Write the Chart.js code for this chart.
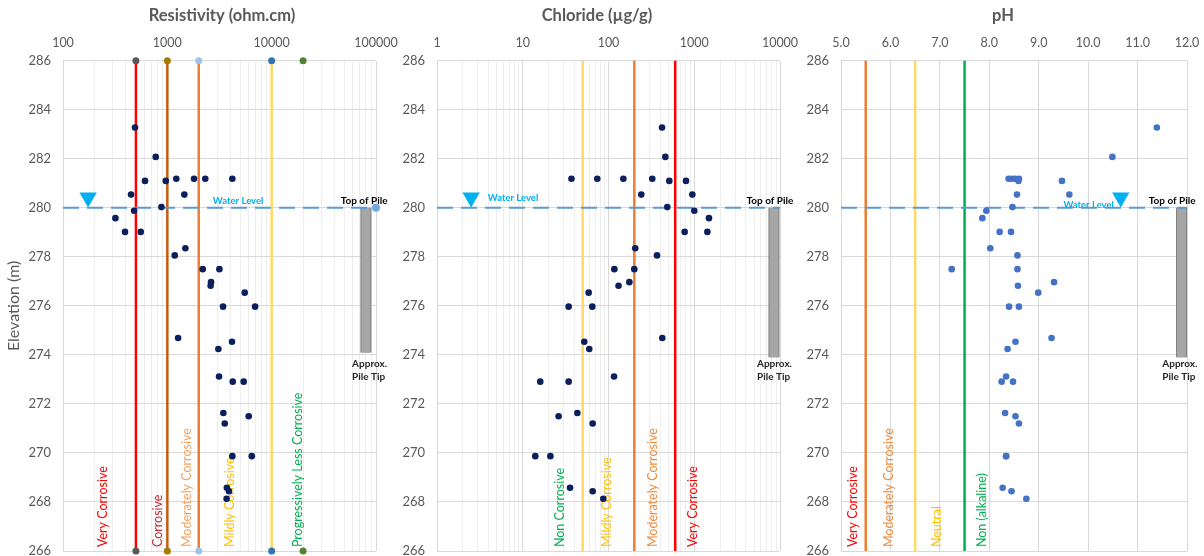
<!DOCTYPE html>
<html><head><meta charset="utf-8">
<script src="https://cdn.jsdelivr.net/npm/chart.js@4.4.0/dist/chart.umd.min.js"></script>
<style>
html,body{margin:0;padding:0;background:#fff;width:1204px;height:556px;overflow:hidden;position:relative}
canvas{position:absolute;top:0}
</style></head><body>
<canvas id="c1" width="400" height="556" style="left:0px"></canvas>
<canvas id="c2" width="405" height="556" style="left:395px"></canvas>
<canvas id="c3" width="404" height="556" style="left:800px"></canvas>
<script>
// ---------------- DATA ----------------
const elevation = [283.28, 282.08, 281.19, 281.19, 281.19, 281.19, 281.10, 281.10, 280.54, 280.54,
  280.03, 279.88, 279.58, 279.02, 279.02, 278.35, 278.06, 277.50, 277.50, 276.97,
  276.82, 276.54, 275.97, 275.97, 274.69, 274.54, 274.24, 273.12, 272.91, 272.91,
  271.63, 271.50, 271.20, 269.87, 269.87, 268.58, 268.44, 268.13];
const resistivity = [490, 774, 1219, 1803, 2311, 4199, 611, 966, 449, 1455,
  877, 480, 318, 393, 556, 1489, 1178, 2183, 3155, 2624,
  2600, 5517, 3421, 6935, 1268, 4168, 3085, 3131, 4236, 5392,
  3444, 6026, 3551, 4199, 6447, 3720, 3900, 3700];
const chloride = [421, 460, 37, 74, 149, 324, 512, 801, 241, 950,
  485, 1002, 1486, 773, 1422, 205, 368, 117, 200, 175,
  131, 58.7, 34.3, 64.7, 424, 52.2, 59.7, 116, 16, 34.3,
  43.3, 26.2, 65.4, 14, 21, 35.6, 65.4, 87];
const pH = [11.39, 10.49, 8.39, 8.45, 8.52, 8.60, 8.59, 9.47, 8.56, 9.62,
  8.47, 7.94, 7.86, 8.21, 8.44, 8.02, 8.57, 7.24, 8.57, 9.31,
  8.58, 8.99, 8.40, 8.60, 9.26, 8.53, 8.37, 8.34, 8.25, 8.48,
  8.32, 8.53, 8.60, 8.34, 8.34, 8.27, 8.45, 8.75];

const elevationTicks = [266, 268, 270, 272, 274, 276, 278, 280, 282, 284, 286];
const resistivityTickLabels = ['100', '1000', '10000', '100000'];
const chlorideTickLabels = ['1', '10', '100', '1000', '10000'];
const pHTickLabels = ['5.0', '6.0', '7.0', '8.0', '9.0', '10.0', '11.0', '12.0'];

const resThresholds = [500, 1000, 2000, 10000];
const resMarkerValues = [500, 1000, 2000, 10000, 20000];
const resZoneNames = ['Very Corrosive', 'Corrosive', 'Moderately Corrosive', 'Mildly Corrosive', 'Progressively Less Corrosive'];
const chlThresholds = [50, 200, 600];
const chlZoneNames = ['Non Corrosive', 'Mildly Corrosive', 'Moderately Corrosive', 'Very Corrosive'];
const phThresholds = [5.5, 6.5, 7.5];
const phZoneNames = ['Very Corrosive', 'Moderately Corrosive', 'Neutral', 'Non (alkaline)'];

const waterLevel = 280;
const pileTop = 280;
const pileTip = [274.1, 273.9, 273.9];

// ---------------- LAYOUT / STYLE ----------------
const FONT = 'Lato, "Open Sans", sans-serif';
const GREY = '#595959';
const C_RED = '#FF0000', C_BROWN = '#C55A11', C_ORANGE = '#ED7D31', C_YEL = '#FFD966', C_GREEN = '#00B050';
const isPow10 = v => { const l = Math.log10(v); return Math.abs(l - Math.round(l)) < 1e-9; };

function logTicks(min, max) {
  const out = [];
  for (let e = Math.round(Math.log10(min)); Math.pow(10, e) <= max; e++) {
    for (let s = 1; s <= 9; s++) {
      const v = Math.round(s * Math.pow(10, e) * 1e6) / 1e6;
      if (v >= min && v <= max) out.push({value: v});
    }
  }
  return out;
}

const annotPlugin = {
  id: 'annot',
  afterLayout(chart, args, o) {
    if (chart.titleBlock && o.titleX !== undefined) {
      chart.titleBlock.left = o.titleX - 160;
      chart.titleBlock.right = o.titleX + 160;
    }
  },
  beforeDatasetsDraw(chart, args, o) {
    const ctx = chart.ctx, xs = chart.scales.x, ys = chart.scales.y;
    ctx.save();
    (o.zones || []).forEach(z => {
      ctx.save();
      ctx.translate(xs.getPixelForValue(z.x), ys.getPixelForValue(z.y));
      ctx.rotate(-Math.PI / 2);
      ctx.font = '12.5px ' + FONT;
      ctx.fillStyle = z.color;
      ctx.textAlign = 'left';
      ctx.textBaseline = 'middle';
      ctx.fillText(z.text, 0, 0);
      ctx.restore();
    });
    ctx.restore();
  },
  afterDatasetsDraw(chart, args, o) {
    const ctx = chart.ctx, xs = chart.scales.x, ys = chart.scales.y;
    ctx.save();
    (o.texts || []).forEach(t => {
      ctx.font = t.font;
      ctx.fillStyle = t.color;
      ctx.textAlign = t.align || 'center';
      ctx.textBaseline = 'middle';
      ctx.fillText(t.text, xs.getPixelForValue(t.x), ys.getPixelForValue(t.y));
    });
    ctx.restore();
  }
};

function lineDS(x, color, extra) {
  return Object.assign({
    data: [{x: x, y: 266}, {x: x, y: 286}],
    showLine: true, borderColor: color, borderWidth: 2.5, pointRadius: 0, clip: false
  }, extra || {});
}

function makePanel(id, p) {
  const points = elevation.map((e, i) => ({x: p.values[i], y: e}));
  const datasets = [
    {data: points, pointRadius: 3.3, pointBackgroundColor: p.dotColor, pointBorderWidth: 0, showLine: false},
    {data: [{x: p.triX, y: 280.42}], pointStyle: 'triangle', rotation: 180, pointRadius: 10,
     pointBackgroundColor: '#00B0F0', pointBorderWidth: 0, showLine: false, clip: false},
    {data: [{x: p.xmin, y: waterLevel}, {x: p.xmax, y: waterLevel}], showLine: true,
     borderColor: '#5B9BD5', borderWidth: 2, borderDash: [16, 8], clip: false,
     pointRadius: p.waterEndDot ? [0, 4] : 0, pointBackgroundColor: '#6FA8DC', pointBorderWidth: 0},
  ];
  p.lines.forEach(l => datasets.push(lineDS(l.x, l.color, l.extra)));
  if (p.extraPoints) datasets.push(p.extraPoints);
  datasets.push({data: [{x: p.pileX, y: pileTop}, {x: p.pileX, y: p.pileTip}], showLine: true,
    borderColor: '#A6A6A6', borderWidth: 9, pointRadius: 0, clip: false});
  datasets.push({data: [{x: p.pileX, y: pileTop}, {x: p.pileX, y: p.pileTip}], showLine: true,
    borderColor: '#7F7F7F', borderWidth: 11, pointRadius: 0, clip: false});

  const xScale = {
    type: p.log ? 'logarithmic' : 'linear', position: 'top', min: p.xmin, max: p.xmax,
    border: {display: false},
    grid: {drawTicks: false, lineWidth: 1,
      color: c => (!p.log || (c.tick && isPow10(c.tick.value))) ? '#D9D9D9' : '#EEEEEE'},
    ticks: {autoSkip: false, maxRotation: 0, padding: 10, color: GREY, font: {family: FONT, size: 12.5},
      callback: (v) => p.tickLabel(v)},
    afterFit: s => { s.height = 35; s.paddingLeft = 0; s.paddingRight = 0; s.paddingTop = 0; s.paddingBottom = 0; }
  };
  if (p.log) xScale.afterBuildTicks = s => { s.ticks = logTicks(p.xmin, p.xmax); };
  else xScale.ticks.stepSize = 1;

  new Chart(document.getElementById(id), {
    type: 'scatter',
    data: {datasets},
    options: {
      responsive: false, animation: false, devicePixelRatio: 1,
      layout: {autoPadding: false, padding: {left: 0, right: p.padRight, top: 0, bottom: 5}},
      plugins: {
        legend: {display: false}, tooltip: {enabled: false},
        title: {display: true, text: p.title, color: GREY, padding: {top: 6, bottom: 0},
          font: {family: FONT, size: 16.5, weight: 'bold'}},
        annot: {titleX: p.titleX, zones: p.zones, texts: p.texts}
      },
      scales: {
        x: xScale,
        y: {
          min: 266, max: 286, border: {display: false},
          grid: {drawTicks: false, color: '#D9D9D9'},
          afterBuildTicks: s => { s.ticks = elevationTicks.map(v => ({value: v})); },
          ticks: {padding: 12, color: GREY, font: {family: FONT, size: 13}},
          title: p.yTitle ? {display: true, text: p.yTitle, color: GREY, font: {family: FONT, size: 16}, padding: {top: 4, bottom: 4}} : {display: false},
          afterFit: s => { s.width = p.yWidth; s.paddingTop = 0; s.paddingBottom = 0; s.paddingLeft = 0; s.paddingRight = 0; }
        }
      }
    },
    plugins: [annotPlugin]
  });
}

const smallBold = 'bold 10px ' + FONT;
const waterFont = 'bold 9.5px ' + FONT;
const zoneY = 266.16;

// Panel 1: Resistivity
makePanel('c1', {
  title: 'Resistivity (ohm.cm)', titleX: 222, yTitle: 'Elevation (m)', yWidth: 63, padRight: 24,
  log: true, xmin: 100, xmax: 100000, values: resistivity, dotColor: '#0B1F5C',
  tickLabel: v => { const i = Math.round(Math.log10(v)) - 2; return isPow10(v) ? resistivityTickLabels[i] : ''; },
  triX: 174, waterEndDot: true, pileX: 80000, pileTip: pileTip[0],
  lines: [
    {x: resThresholds[0], color: C_RED, extra: {pointRadius: 3.5, pointBackgroundColor: '#595959', pointBorderWidth: 0}},
    {x: resThresholds[1], color: C_BROWN, extra: {pointRadius: 3.5, pointBackgroundColor: '#A67C00', pointBorderWidth: 0}},
    {x: resThresholds[2], color: C_ORANGE, extra: {pointRadius: 3.5, pointBackgroundColor: '#9DC3E6', pointBorderWidth: 0}},
    {x: resThresholds[3], color: C_YEL, extra: {pointRadius: 3.5, pointBackgroundColor: '#2E75B6', pointBorderWidth: 0}}
  ],
  extraPoints: {data: [{x: resMarkerValues[4], y: 266}, {x: resMarkerValues[4], y: 286}], showLine: false,
    pointRadius: 3.5, pointBackgroundColor: '#548235', pointBorderWidth: 0, clip: false},
  zones: [
    {x: 242, y: zoneY, text: resZoneNames[0], color: '#FF0000'},
    {x: 815, y: zoneY, text: resZoneNames[1], color: '#C62B35'},
    {x: 1545, y: zoneY, text: resZoneNames[2], color: '#F4A261'},
    {x: 3990, y: zoneY, text: resZoneNames[3], color: '#FFC000'},
    {x: 17900, y: zoneY, text: resZoneNames[4], color: '#00B050'}
  ],
  texts: [
    {x: 4770, y: 280.3, text: 'Water Level', color: '#00B0F0', font: waterFont},
    {x: 76900, y: 280.3, text: 'Top of Pile', color: '#000', font: smallBold},
    {x: 59000, y: 273.62, text: 'Approx.', color: '#262626', font: smallBold, align: 'left'},
    {x: 59000, y: 273.09, text: 'Pile Tip', color: '#262626', font: smallBold, align: 'left'}
  ]
});

// Panel 2: Chloride
makePanel('c2', {
  title: 'Chloride (\u00b5g/g)', titleX: 202, yWidth: 42, padRight: 20,
  log: true, xmin: 1, xmax: 10000, values: chloride, dotColor: '#0B1F5C',
  tickLabel: v => { const i = Math.round(Math.log10(v)); return isPow10(v) ? chlorideTickLabels[i] : ''; },
  triX: 2.5, waterEndDot: false, pileX: 8500, pileTip: pileTip[1],
  lines: [
    {x: chlThresholds[0], color: C_YEL},
    {x: chlThresholds[1], color: C_ORANGE},
    {x: chlThresholds[2], color: C_RED}
  ],
  zones: [
    {x: 27.2, y: zoneY, text: chlZoneNames[0], color: '#00B050'},
    {x: 95.3, y: zoneY, text: chlZoneNames[1], color: '#FFC000'},
    {x: 330, y: zoneY, text: chlZoneNames[2], color: '#F08A3C'},
    {x: 959, y: zoneY, text: chlZoneNames[3], color: '#FF0000'}
  ],
  texts: [
    {x: 7.7, y: 280.42, text: 'Water Level', color: '#00B0F0', font: waterFont},
    {x: 7640, y: 280.3, text: 'Top of Pile', color: '#000', font: smallBold},
    {x: 5390, y: 273.62, text: 'Approx.', color: '#262626', font: smallBold, align: 'left'},
    {x: 5390, y: 273.09, text: 'Pile Tip', color: '#262626', font: smallBold, align: 'left'}
  ]
});

// Panel 3: pH
makePanel('c3', {
  title: 'pH', titleX: 203, yWidth: 41, padRight: 17,
  log: false, xmin: 5, xmax: 12, values: pH, dotColor: '#4472C4',
  tickLabel: v => pHTickLabels[Math.round(v - 5)],
  triX: 10.66, waterEndDot: false, pileX: 11.89, pileTip: pileTip[2],
  lines: [
    {x: phThresholds[0], color: C_ORANGE},
    {x: phThresholds[1], color: C_YEL},
    {x: phThresholds[2], color: C_GREEN}
  ],
  zones: [
    {x: 5.24, y: zoneY, text: phZoneNames[0], color: '#FF0000'},
    {x: 5.97, y: zoneY, text: phZoneNames[1], color: '#F08A3C'},
    {x: 6.95, y: zoneY, text: phZoneNames[2], color: '#FFC000'},
    {x: 7.85, y: zoneY, text: phZoneNames[3], color: '#00B050'}
  ],
  texts: [
    {x: 10.01, y: 280.13, text: 'Water Level', color: '#00B0F0', font: waterFont},
    {x: 11.7, y: 280.3, text: 'Top of Pile', color: '#000', font: smallBold},
    {x: 11.5, y: 273.62, text: 'Approx.', color: '#262626', font: smallBold, align: 'left'},
    {x: 11.5, y: 273.09, text: 'Pile Tip', color: '#262626', font: smallBold, align: 'left'}
  ]
});
</script>
</body></html>
